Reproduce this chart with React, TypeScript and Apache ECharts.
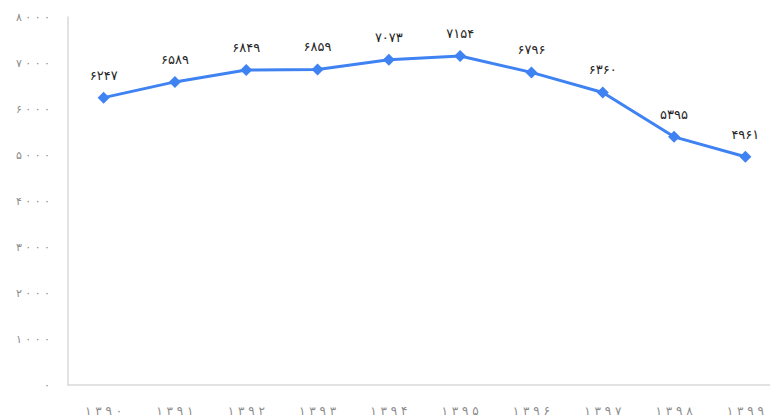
import React, { useEffect, useRef } from "react";
import * as echarts from "echarts";

const years = ["1390", "1391", "1392", "1393", "1394", "1395", "1396", "1397", "1398", "1399"];
const values = [6247, 6589, 6849, 6859, 7073, 7154, 6796, 6360, 5395, 4961];
const yMin = 0;
const yMax = 8000;
const yStep = 1000;

const fa = (s: string | number) =>
  String(s).replace(/[0-9]/g, (d) => "۰۱۲۳۴۵۶۷۸۹"[Number(d)]);

export default function App() {
  const ref = useRef<HTMLDivElement>(null);
  useEffect(() => {
    if (!ref.current) return;
    const chart = echarts.init(ref.current, null, { renderer: "svg" });
    chart.setOption({
      animation: false,
      backgroundColor: "#ffffff",
      grid: { left: 68, top: 17, width: 713, height: 368, containLabel: false },
      xAxis: {
        type: "category",
        data: years,
        boundaryGap: true,
        axisLine: { show: true, lineStyle: { color: "#d9d9d9", width: 1.5 } },
        axisTick: { show: false },
        axisLabel: {
          color: "#8c8c8c",
          fontSize: 12,
          fontFamily: "DejaVu Sans",
          margin: 20,
          formatter: (v: string) => fa(v).split("").join(" "),
        },
        splitLine: { show: false },
      },
      yAxis: {
        type: "value",
        min: yMin,
        max: yMax,
        interval: yStep,
        axisLine: { show: true, lineStyle: { color: "#d9d9d9", width: 1.5 } },
        axisTick: { show: false },
        splitLine: { show: false },
        axisLabel: {
          color: "#8c8c8c",
          fontSize: 11,
          fontFamily: "DejaVu Sans",
          margin: 18,
          formatter: (v: number) => fa(v).split("").join(" "),
        },
      },
      series: [
        {
          type: "line",
          data: values,
          symbol: "diamond",
          symbolSize: 12,
          lineStyle: { color: "#3f82f2", width: 3 },
          itemStyle: { color: "#3f82f2" },
          label: {
            show: true,
            position: "top",
            distance: 10,
            color: "#262626",
            fontSize: 13,
            fontFamily: "DejaVu Sans",
            formatter: (p: any) => fa(p.value),
          },
        },
      ],
    });
    return () => chart.dispose();
  }, []);
  return (
    <div
      style={{ position: "fixed", left: 0, top: 0, width: 770, height: 418, overflow: "hidden" }}
    >
      <div ref={ref} style={{ width: 800, height: 418 }} />
    </div>
  );
}
